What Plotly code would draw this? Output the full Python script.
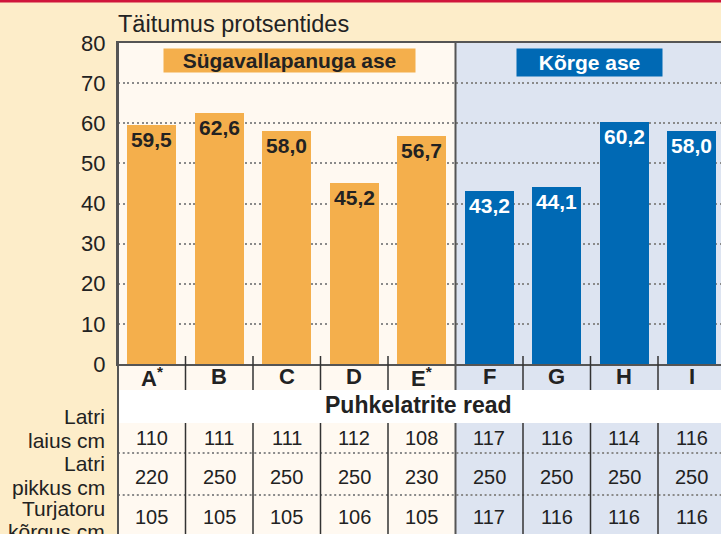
import plotly.graph_objects as go

# ---------------- data ----------------
categories = ["A", "B", "C", "D", "E", "F", "G", "H", "I"]
tick_labels = ["A<sup>*</sup>", "B", "C", "D", "E<sup>*</sup>", "F", "G", "H", "I"]
fill_pct = [59.5, 62.6, 58.0, 45.2, 56.7, 43.2, 44.1, 60.2, 58.0]
group = ["low", "low", "low", "low", "low", "high", "high", "high", "high"]
group_names = {"low": "Sügavallapanuga ase", "high": "Kõrge ase"}
latri_laius = [110, 111, 111, 112, 108, 117, 116, 114, 116]
latri_pikkus = [220, 250, 250, 250, 230, 250, 250, 250, 250]
turjatoru_korgus = [105, 105, 105, 106, 105, 117, 116, 116, 116]
row_labels = [("Latri", "laius cm"), ("Latri", "pikkus cm"), ("Turjatoru", "kõrgus cm")]
y_title = "Täitumus protsentides"
x_title = "Puhkelatrite read"

# ---------------- style ----------------
W, H = 721, 534
ML, MT = 118, 43
Y0PX = 364                     # pixel of y=0
MB = H - Y0PX
PLOT_W = W - ML
PLOT_H = Y0PX - MT
CAT_PX = 67.5
FONT = "Liberation Sans, Arial, sans-serif"
ORANGE = "#F4AF4C"
BLUE = "#0069B4"
CREAM = "#FFF9F1"
LBLUE = "#DDE4F1"
OUTER = "#FDEDC9"
DARK = "#222222"
LINE = "#555555"
GRID = "#8A8A8A"


def py(p):
    return (Y0PX - p) / PLOT_H


def px(p):
    return (p - ML) / PLOT_W


colors = [ORANGE if g == "low" else BLUE for g in group]
txtcol = [DARK if g == "low" else "white" for g in group]
labels = [f"{v:.1f}".replace(".", ",") for v in fill_pct]

fig = go.Figure()
fig.add_trace(go.Bar(
    x=categories, y=fill_pct, width=49 / CAT_PX,
    marker=dict(color=colors, line=dict(width=0)),
    text=labels, textposition="inside", insidetextanchor="end",
    textangle=0, constraintext="none",
    textfont=dict(family=FONT, size=21, color=txtcol, weight="bold"),
    hoverinfo="skip", showlegend=False,
))

n = len(categories)
n_low = group.count("low")
xmax = -0.5 + PLOT_W / CAT_PX

shapes = []
# panel backgrounds
shapes.append(dict(type="rect", xref="x", yref="paper", x0=-0.5, x1=n_low - 0.5,
                   y0=py(H + 5), y1=1, fillcolor=CREAM, line=dict(width=0), layer="below"))
shapes.append(dict(type="rect", xref="x", yref="paper", x0=n_low - 0.5, x1=n - 0.5,
                   y0=py(H + 5), y1=1, fillcolor=LBLUE, line=dict(width=0), layer="below"))
# white title band
shapes.append(dict(type="rect", xref="paper", yref="paper", x0=0, x1=1.01,
                   y0=py(423), y1=py(390), fillcolor="white", line=dict(width=0), layer="below"))
# red top rule
shapes.append(dict(type="rect", xref="paper", yref="paper", x0=px(-2), x1=px(W + 2),
                   y0=py(2.5), y1=py(-2), fillcolor="#D0153B", line=dict(width=0), layer="above"))
# table dotted rules
for yy in (453, 495):
    shapes.append(dict(type="line", xref="paper", yref="paper", x0=0, x1=1.01, y0=py(yy), y1=py(yy),
                       line=dict(color=GRID, width=2, dash="2px,2.7px"), layer="above"))
# category boundaries
for i in range(n - 1):
    b = i + 0.5
    if i == n_low - 1:
        shapes.append(dict(type="line", xref="x", yref="paper", x0=b, x1=b, y0=py(390), y1=1,
                           line=dict(color=LINE, width=2), layer="above"))
        shapes.append(dict(type="line", xref="x", yref="paper", x0=b, x1=b, y0=py(423), y1=py(H + 5),
                           line=dict(color=LINE, width=2), layer="above"))
    else:
        shapes.append(dict(type="line", xref="x", yref="paper", x0=b, x1=b, y0=py(356), y1=py(390),
                           line=dict(color="#333333", width=1.5), layer="above"))
        shapes.append(dict(type="line", xref="x", yref="paper", x0=b, x1=b, y0=py(423), y1=py(H + 5),
                           line=dict(color="#333333", width=1.5), layer="above"))
# left frame line through the table
shapes.append(dict(type="line", xref="paper", yref="paper", x0=0, x1=0, y0=py(H + 5), y1=1,
                   line=dict(color=LINE, width=2), layer="above"))

ann = []
ann.append(dict(text=y_title, xref="paper", yref="paper", x=px(116), y=py(24), xanchor="left",
                yanchor="middle", showarrow=False, font=dict(family=FONT, size=23.5, color=DARK)))
ann.append(dict(text=x_title, xref="paper", yref="paper", x=px(418.5), y=py(405), xanchor="center",
                yanchor="middle", showarrow=False,
                font=dict(family=FONT, size=23, color=DARK, weight="bold")))
# category labels
for c, t in zip(categories, tick_labels):
    ann.append(dict(text=t, xref="x", yref="paper", x=c, y=py(377), xanchor="center",
                    yanchor="middle", showarrow=False,
                    font=dict(family=FONT, size=22, color=DARK, weight="bold")))
# group header boxes
ann.append(dict(text=group_names["low"], xref="paper", yref="paper", x=px(289.5), y=py(60.5),
                xanchor="center", yanchor="middle", showarrow=False, bgcolor=ORANGE,
                width=251, height=23, borderpad=0,
                font=dict(family=FONT, size=21, color=DARK, weight="bold")))
ann.append(dict(text=group_names["high"], xref="paper", yref="paper", x=px(589.5), y=py(62.5),
                xanchor="center", yanchor="middle", showarrow=False, bgcolor=BLUE,
                width=145, height=27, borderpad=0,
                font=dict(family=FONT, size=21, color="white", weight="bold")))
# table values
for row, ycen in zip((latri_laius, latri_pikkus, turjatoru_korgus), (438, 477, 517)):
    for c, v in zip(categories, row):
        ann.append(dict(text=str(v), xref="x", yref="paper", x=c, y=py(ycen),
                        xanchor="center", yanchor="middle", showarrow=False,
                        font=dict(family=FONT, size=20, color=DARK)))
# row labels
for (l1, l2), (y1, y2) in zip(row_labels, ((417, 440), (463, 487), (508, 531))):
    for t, yy in ((l1, y1), (l2, y2)):
        ann.append(dict(text=t, xref="paper", yref="paper", x=px(107), y=py(yy),
                        xanchor="right", yanchor="middle", showarrow=False,
                        font=dict(family=FONT, size=21, color=DARK)))

fig.update_layout(
    width=W, height=H,
    margin=dict(l=ML, r=0, t=MT, b=MB, pad=0),
    paper_bgcolor=OUTER, plot_bgcolor="rgba(0,0,0,0)",
    bargap=0, showlegend=False,
    shapes=shapes, annotations=ann,
    xaxis=dict(type="category", range=[-0.5, xmax], showticklabels=False,
               ticks="", showgrid=False, zeroline=False,
               showline=True, mirror=True, linecolor=LINE, linewidth=2, fixedrange=True),
    yaxis=dict(range=[0, 80], dtick=10, tick0=0, showgrid=True, griddash="2px,2.7px",
               gridcolor=GRID, gridwidth=2, zeroline=False, showline=True, linecolor=LINE,
               linewidth=2, ticks="", ticklabelstandoff=6,
               tickfont=dict(family=FONT, size=22, color=DARK), fixedrange=True),
)

fig.write_html("out.html", config={"displayModeBar": False},
               post_script="document.body.style.margin='0';")
